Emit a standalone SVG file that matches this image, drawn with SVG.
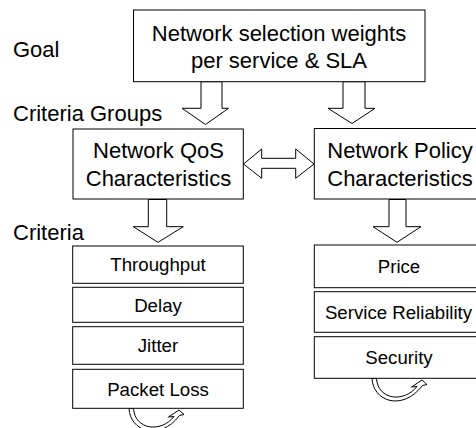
<svg xmlns="http://www.w3.org/2000/svg" xmlns:xlink="http://www.w3.org/1999/xlink" width="476" height="428" viewBox="0 0 476 428">
  <style>
    .box { fill: #fff; stroke: #000; stroke-width: 1; }
    .arrow { fill: #fff; stroke: #000; stroke-width: 1; stroke-linejoin: miter; }
    .lvl { font-family: "Liberation Sans", Arial, sans-serif; font-size: 22px; fill: #000; }
    .big { font-family: "Liberation Sans", Arial, sans-serif; font-size: 22px; fill: #000; text-anchor: middle; }
    .crit { font-family: "Liberation Sans", Arial, sans-serif; font-size: 18.67px; fill: #000; text-anchor: middle; }
  </style>
  <defs>
    <!-- curved block arrow looping below a criteria column -->
    <path id="loop" class="arrow" d="M 372 378.5 C 373 401 402 412 422.5 385.5 L 427 384.5 L 422 380 L 411.5 387 L 417 386.5 C 404 403 378 400 376.5 378.5 Z"/>
  </defs>

  <rect width="476" height="428" fill="#fff"/>

  <!-- level labels -->
  <g id="labels">
    <text class="lvl" x="13" y="57">Goal</text>
    <text class="lvl" x="13" y="121">Criteria Groups</text>
    <text class="lvl" x="13" y="240">Criteria</text>
  </g>

  <g id="connectors">
    <polygon class="arrow" points="201,81.7 222,81.7 222,108.3 228.5,108.3 205.5,124.5 182,108.3 201,108.3"/>
    <polygon class="arrow" points="343,81.7 365,81.7 365,108.3 375,108.3 352,123.5 328,108.3 343,108.3"/>
    <polygon class="arrow" points="243.5,164 261.7,149 261.7,158.3 295.7,158.3 295.7,149 314,164 295.7,178.3 295.7,168.3 261.7,168.3 261.7,178.3"/>
    <polygon class="arrow" points="148.3,199.5 166.7,199.5 166.7,226.7 183.3,226.7 158,242.3 133.3,226.7 148.3,226.7"/>
    <polygon class="arrow" points="389,199.5 406,199.5 406,226.7 421,226.7 397,242.3 373,226.7 389,226.7"/>
    <use xlink:href="#loop" href="#loop"/>
    <use xlink:href="#loop" href="#loop" transform="translate(-243,30)"/>
  </g>

  <g id="goal">
    <rect class="box" x="133.5" y="10" width="291.5" height="71.7"/>
    <text class="big" x="279" y="40.5">Network selection weights</text>
    <text class="big" x="279" y="67.8">per service &amp; SLA</text>
  </g>

  <g id="qos">
    <rect class="box" x="73" y="129" width="170.3" height="70"/>
    <text class="big" x="158.5" y="158">Network QoS</text>
    <text class="big" x="158.5" y="185.5">Characteristics</text>
  </g>

  <g id="policy">
    <rect class="box" x="314.3" y="128.5" width="172" height="70.5"/>
    <text class="big" x="400" y="158">Network Policy</text>
    <text class="big" x="400" y="185.5">Characteristics</text>
  </g>

  <g id="throughput">
    <rect class="box" x="72.7" y="246" width="170.6" height="37.3"/>
    <text class="crit" x="158" y="271.4">Throughput</text>
  </g>
  <g id="delay">
    <rect class="box" x="72.7" y="287.3" width="170.6" height="35"/>
    <text class="crit" x="158" y="311.5">Delay</text>
  </g>
  <g id="jitter">
    <rect class="box" x="72.7" y="326.7" width="170.6" height="37.6"/>
    <text class="crit" x="158" y="352.2">Jitter</text>
  </g>
  <g id="packet-loss">
    <rect class="box" x="72.7" y="369.3" width="170.6" height="39"/>
    <text class="crit" x="158" y="395.5">Packet Loss</text>
  </g>

  <g id="price">
    <rect class="box" x="314.3" y="245" width="172" height="42.7"/>
    <text class="crit" x="399" y="273">Price</text>
  </g>
  <g id="service-reliability">
    <rect class="box" x="314.3" y="291.7" width="172" height="40.6"/>
    <text class="crit" x="398.5" y="318.7">Service Reliability</text>
  </g>
  <g id="security">
    <rect class="box" x="314.3" y="336.7" width="172" height="41.6"/>
    <text class="crit" x="399" y="364.2">Security</text>
  </g>
</svg>
